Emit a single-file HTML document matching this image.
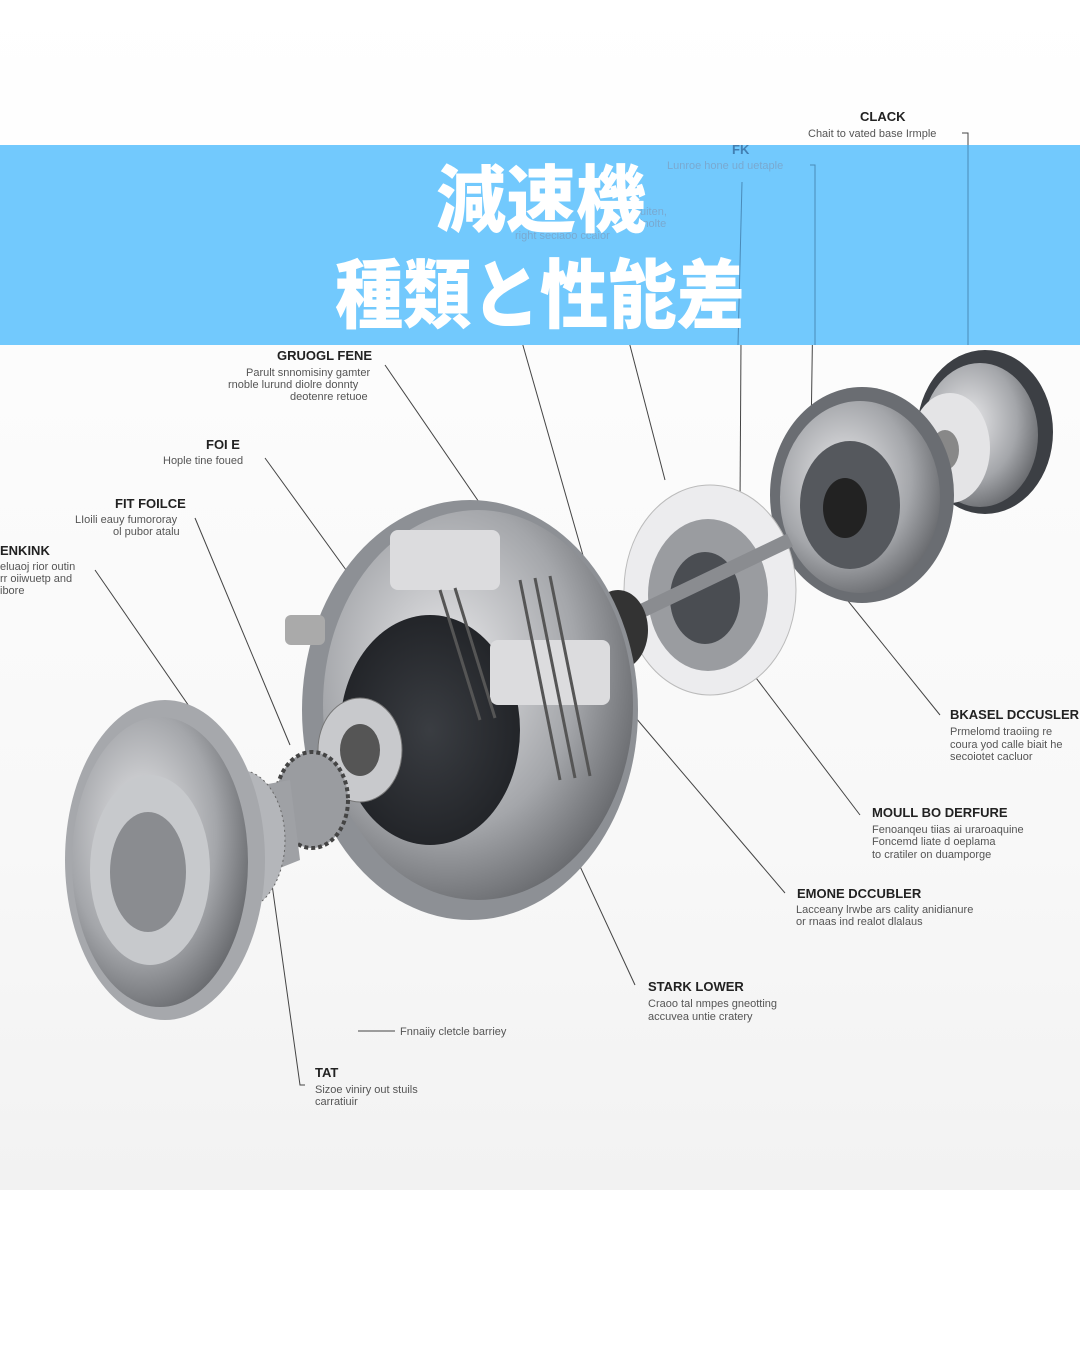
<!DOCTYPE html>
<html><head><meta charset="utf-8"><style>
html,body{margin:0;padding:0;width:1080px;height:1350px;overflow:hidden;background:#fff}
.t{font-family:"Liberation Sans",sans-serif}
</style></head><body>
<svg width="1080" height="1350" viewBox="0 0 1080 1350" xmlns="http://www.w3.org/2000/svg">
<defs>
<linearGradient id="bg" x1="0" y1="0" x2="0" y2="1"><stop offset="0" stop-color="#fff"/><stop offset="0.7" stop-color="#f8f8f8"/><stop offset="1" stop-color="#f2f2f2"/></linearGradient>
<radialGradient id="m" cx="0.4" cy="0.4" r="0.7"><stop offset="0" stop-color="#e8e8ea"/><stop offset="0.6" stop-color="#a4a6aa"/><stop offset="1" stop-color="#5a5c60"/></radialGradient>
<radialGradient id="d" cx="0.5" cy="0.5" r="0.6"><stop offset="0" stop-color="#3a3d42"/><stop offset="1" stop-color="#1e2024"/></radialGradient>
</defs>
<rect x="0" y="0" width="1080" height="1190" fill="url(#bg)"/>
<g font-family="Liberation Sans,sans-serif" fill="#222">
<!-- connector lines -->
<g stroke="#444" stroke-width="1" fill="none">
<path d="M385 365 L505 540"/><path d="M265 458 L375 610"/><path d="M195 518 L290 745"/>
<path d="M95 570 L240 780"/><path d="M510 300 L590 580"/><path d="M600 230 L665 480"/>
<path d="M742 180 L740 505"/><path d="M808 165 L815 165 L810 505"/><path d="M962 133 L968 133 L968 345"/>
<path d="M940 715 L815 560"/><path d="M860 815 L750 670"/><path d="M785 893 L595 670"/>
<path d="M635 985 L540 780"/><path d="M305 1085 L300 1085 L270 870"/><path d="M358 1031 L395 1031"/>
</g>
<!-- far right ring -->
<ellipse cx="985" cy="432" rx="68" ry="82" fill="#3c3f44"/>
<ellipse cx="980" cy="435" rx="58" ry="72" fill="url(#m)"/>
<ellipse cx="950" cy="448" rx="40" ry="55" fill="#e4e4e6"/>
<ellipse cx="945" cy="450" rx="14" ry="20" fill="#888"/>
<!-- right plate -->
<ellipse cx="862" cy="495" rx="92" ry="108" fill="#6a6d72"/>
<ellipse cx="860" cy="497" rx="80" ry="96" fill="url(#m)"/>
<ellipse cx="850" cy="505" rx="50" ry="64" fill="#55585d"/>
<ellipse cx="845" cy="508" rx="22" ry="30" fill="#222"/>
<!-- disc -->
<ellipse cx="710" cy="590" rx="86" ry="105" fill="#ececee" stroke="#bbb"/>
<ellipse cx="708" cy="595" rx="60" ry="76" fill="#9a9ca0"/>
<ellipse cx="705" cy="598" rx="35" ry="46" fill="#4a4d52"/>
<!-- shaft -->
<path d="M560 650 L790 540" stroke="#8a8c90" stroke-width="14"/>
<ellipse cx="618" cy="630" rx="30" ry="40" fill="#333"/>
<!-- main housing -->
<ellipse cx="470" cy="710" rx="168" ry="210" fill="#8d9095"/>
<ellipse cx="478" cy="705" rx="155" ry="195" fill="url(#m)"/>
<ellipse cx="430" cy="730" rx="90" ry="115" fill="url(#d)"/>
<rect x="390" y="530" width="110" height="60" rx="8" fill="#dcdcde"/>
<rect x="490" y="640" width="120" height="65" rx="8" fill="#dcdcde"/>
<g stroke="#555" stroke-width="3"><path d="M520 580 l40 200"/><path d="M535 578 l40 200"/><path d="M550 576 l40 200"/><path d="M440 590 l40 130"/><path d="M455 588 l40 130"/></g>
<ellipse cx="360" cy="750" rx="42" ry="52" fill="#c8c9cc" stroke="#777"/>
<ellipse cx="360" cy="750" rx="20" ry="26" fill="#555"/>
<rect x="285" y="615" width="40" height="30" rx="6" fill="#aaa"/>
<!-- gear -->
<ellipse cx="312" cy="800" rx="36" ry="48" fill="#9a9ca0" stroke="#444" stroke-width="4" stroke-dasharray="4 3"/>
<!-- left flange -->
<path d="M180 800 L290 780 L300 860 L200 900Z" fill="#9fa1a5"/>
<ellipse cx="240" cy="840" rx="45" ry="70" fill="#b4b6ba" stroke="#666" stroke-dasharray="2 3"/>
<ellipse cx="165" cy="860" rx="100" ry="160" fill="#a6a8ac"/>
<ellipse cx="160" cy="862" rx="88" ry="145" fill="url(#m)"/>
<ellipse cx="150" cy="870" rx="60" ry="95" fill="#c7c9cc"/>
<ellipse cx="148" cy="872" rx="38" ry="60" fill="#8a8c90"/>
<!-- labels -->
<g font-size="13" font-weight="bold">
<text x="860" y="121">CLACK</text><text x="732" y="154" fill="#3d6fa0">FK</text>
<text x="277" y="360">GRUOGL FENE</text><text x="206" y="449">FOI E</text>
<text x="115" y="508">FIT FOILCE</text><text x="0" y="555">ENKINK</text>
<text x="950" y="719">BKASEL DCCUSLER</text><text x="872" y="817">MOULL BO DERFURE</text>
<text x="797" y="898">EMONE DCCUBLER</text><text x="648" y="991">STARK LOWER</text>
<text x="315" y="1077">TAT</text>
</g>
<g font-size="11" fill="#555">
<text x="808" y="137">Chait to vated base Irmple</text>
<text x="246" y="376">Parult snnomisiny gamter</text><text x="228" y="388">rnoble lurund diolre donnty</text><text x="290" y="400">deotenre retuoe</text>
<text x="163" y="464">Hople tine foued</text>
<text x="75" y="523">LIoili eauy fumororay</text><text x="113" y="535">ol pubor atalu</text>
<text x="0" y="570">eluaoj rior outin</text><text x="0" y="582">rr oiiwuetp and</text><text x="0" y="594">ibore</text>
<text x="950" y="735">Prmelomd traoiing re</text><text x="950" y="748">coura yod calle biait he</text><text x="950" y="760">secoiotet cacluor</text>
<text x="872" y="833">Fenoanqeu tiias  ai uraroaquine</text><text x="872" y="845">Foncemd liate d oeplama</text><text x="872" y="858">to cratiler on duamporge</text>
<text x="796" y="913">Lacceany lrwbe ars cality anidianure</text><text x="796" y="925">or rnaas ind realot dlalaus</text>
<text x="648" y="1007">Craoo tal nmpes gneotting</text><text x="648" y="1020">accuvea untie cratery</text>
<text x="400" y="1035">Fnnaiiy cletcle barriey</text>
<text x="315" y="1093">Sizoe viniry out stuils</text><text x="315" y="1105">carratiuir</text>
</g>
</g>
<!-- banner -->
<rect x="0" y="145" width="1080" height="200" fill="#72c9fd"/>
<g fill="#7aa6cc" font-family="Liberation Sans,sans-serif" font-size="11" opacity="0.9">
<text x="732" y="154" font-size="13" font-weight="bold" fill="#3d78aa">FK</text>
<text x="667" y="169">Lunroe hone ud uetaple</text>
<text x="640" y="215">uiten,</text><text x="640" y="227">inolte</text>
<text x="515" y="239">right seclaoo ccaior</text>
</g>
<g stroke="#4a8ab8" fill="none" stroke-width="1"><path d="M968 145 V345"/><path d="M810 165 h5 V345"/><path d="M742 182 L738 345"/></g>
<g fill="#fff" font-family="'Noto Sans CJK JP',sans-serif" font-weight="900" text-anchor="middle">
<text x="541" y="226" font-size="70" transform="translate(541 226) scale(1 1.05) translate(-541 -226)">減速機</text>
<text x="540" y="322" font-size="72" transform="translate(540 322) scale(0.95 1.05) translate(-540 -322)">種類と性能差</text>
</g>
</svg>
</body></html>
